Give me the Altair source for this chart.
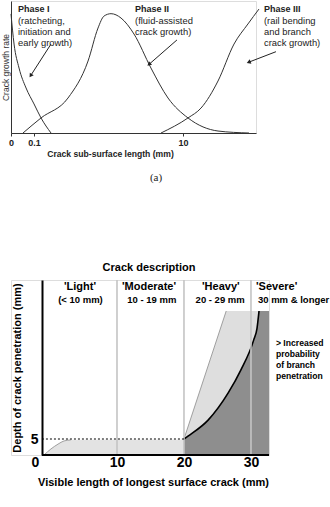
import altair as alt
import pandas as pd

FONT = "Liberation Sans"

# ---------------- Figure (a): phases of crack growth ----------------
# x: crack sub-surface length on a log10 scale (mm); y: relative growth rate
p1_x = [-1.309, -1.268, -1.201, -1.107, -1.0, -0.906, -0.772]
p1_y = [90.2, 67.4, 49.2, 34.1, 22.0, 11.4, 0.0]
p2_x = [-1.148, -0.906, -0.544, -0.275, -0.141, -0.060, 0.034, 0.168,
        0.342, 0.570, 0.799, 1.067, 1.470, 1.886]
p2_y = [0.0, 11.4, 26.5, 54.5, 79.5, 88.6, 90.4, 87.1, 75.0, 49.2, 26.5,
        11.4, 1.5, 0.0]
p3_x = [0.705, 1.067, 1.242, 1.470, 1.685, 1.872, 2.020]
p3_y = [0.0, 11.4, 18.9, 39.4, 67.4, 82.6, 93.9]

a_tick_vals = [-1.309, -1.0, 1.0]
a_tick_labels = ["0", "0.1", "10"]

phase_titles = ["Phase I", "Phase II", "Phase III"]
phase_notes = ["(ratcheting,\ninitiation and\nearly growth)",
               "(fluid-assisted\ncrack growth)",
               "(rail bending\nand branch\ncrack growth)"]
phase_text_x = [-1.215, 0.356, 2.087]
phase_title_y = [93.9, 93.9, 93.9]
phase_note_y = [87.6, 87.6, 87.6]

arrow_x = [-0.772, 0.919, 2.248]
arrow_y = [67.4, 70.5, 61.6]
arrow_x2 = [-1.040, 0.550, 1.890]
arrow_y2 = [43.9, 52.3, 53.8]
arrow_angle = [212.8, 228.9, 248.9]

# ---------------- Figure (b): crack description ----------------
light_x = [-0.9, 0.15, 1.2, 2.1, 3.1, 20.0]
light_y = [0.0, 1.9, 3.4, 4.4, 4.7, 4.8]
wedge_x = [20.0, 26.3, 31.2]
wedge_y = [5.0, 45.0, 45.0]
dark_x = [20.0, 20.6, 23.6, 26.6, 28.5, 30.4, 30.9, 31.2, 32.69]
dark_y = [5.0, 5.9, 10.9, 19.4, 26.6, 35.9, 39.6, 45.0, 45.0]
bound_x = [10, 20, 30]

hdr_names = ["'Light'", "'Moderate'", "'Heavy'"]
hdr_ranges = ["(< 10 mm)", "10 - 19 mm", "20 - 29 mm"]
hdr_name_x = [4.48, 14.78, 25.5]
hdr_range_x = [4.55, 15.2, 25.4]
sev_name, sev_range = "'Severe'", "30 mm & longer"
sev_name_x, sev_range_x = 30.75, 31.04
hdr_name_y, hdr_range_y = 52.5, 48.4

b_tick_vals = [-2.24, 10, 20, 30]

# ======================= chart (a) =======================
A_XDOM = [-1.309, 1.980]
A_YDOM = [0, 100]
ax_x_axis = alt.Axis(values=a_tick_vals,
                     labelExpr="datum.value < -1.1 ? '0' : (datum.value < 0 ? '0.1' : '10')",
                     labelFlush=False, labelFont=FONT, labelFontSize=9,
                     labelFontWeight="bold", labelColor="#222", labelPadding=2,
                     tickSize=3, tickColor="#333", domainColor="#333", grid=False,
                     title="Crack sub-surface length (mm)", titleFont=FONT,
                     titleFontSize=8.6, titleFontWeight="bold", titleColor="#222",
                     titleX=99, titleY=20, titleBaseline="middle", titleAlign="center")
ax_y_axis = alt.Axis(labels=False, ticks=False, grid=False, domainColor="#333",
                     title="Crack growth rate", titleFont=FONT, titleFontSize=8.5,
                     titleFontWeight="normal", titleColor="#333", titlePadding=1)

AX = alt.X("x:Q", scale=alt.Scale(domain=A_XDOM, nice=False, zero=False), axis=ax_x_axis)
AY = alt.Y("y:Q", scale=alt.Scale(domain=A_YDOM, nice=False, zero=False), axis=ax_y_axis)

curves = pd.DataFrame(
    [{"x": x, "y": y, "phase": "I", "i": i} for i, (x, y) in enumerate(zip(p1_x, p1_y))]
    + [{"x": x, "y": y, "phase": "II", "i": i} for i, (x, y) in enumerate(zip(p2_x, p2_y))]
    + [{"x": x, "y": y, "phase": "III", "i": i} for i, (x, y) in enumerate(zip(p3_x, p3_y))]
)
curve_layer = alt.Chart(curves).mark_line(
    color="#333", strokeWidth=1, clip=False, interpolate="monotone"
).encode(x=AX, y=AY, detail="phase:N", order="i:Q")

titles_df = pd.DataFrame({"x": phase_text_x, "y": phase_title_y, "t": phase_titles})
titles_layer = alt.Chart(titles_df).mark_text(
    align="left", baseline="middle", font=FONT, fontSize=9, fontWeight="bold", color="#222"
).encode(x=AX, y=AY, text="t:N")

notes_df = pd.DataFrame({"x": phase_text_x, "y": phase_note_y, "t": phase_notes})
notes_layer = alt.Chart(notes_df).mark_text(
    align="left", baseline="top", font=FONT, fontSize=9.4, color="#222",
    lineBreak="\n", lineHeight=10.7
).encode(x=AX, y=AY, text="t:N")

arrows_df = pd.DataFrame({"x": arrow_x, "y": arrow_y, "x2": arrow_x2, "y2": arrow_y2})
arrow_lines = alt.Chart(arrows_df).mark_rule(color="#222", strokeWidth=1).encode(
    x=AX, y=AY, x2="x2:Q", y2="y2:Q")
heads_df = pd.DataFrame({"x": arrow_x2, "y": arrow_y2, "a": arrow_angle})
arrow_heads = alt.Chart(heads_df).mark_point(
    shape="triangle", filled=True, size=22, color="#222", opacity=1
).encode(x=AX, y=AY, angle=alt.Angle("a:Q", scale=None))

a_label_df = pd.DataFrame({"x": [0.638], "y": [-34.1], "t": ["(a)"]})
a_label = alt.Chart(a_label_df).mark_text(
    font="Liberation Serif", fontSize=11, color="#222", baseline="middle"
).encode(x=AX, y=AY, text="t:N")

chart_a = alt.layer(curve_layer, arrow_lines, arrow_heads, titles_layer, notes_layer,
                    a_label).properties(width=245, height=132)

# ======================= chart (b) =======================
B_XDOM = [-5.82, 32.69]
B_YDOM = [0, 54.69]
bx_axis = alt.Axis(values=b_tick_vals,
                   labelExpr="datum.value < 0 ? '0' : datum.label",
                   labelFlush=False, labelFont=FONT, labelFontSize=14,
                   labelFontWeight="bold", labelColor="black", labelPadding=0,
                   ticks=False, domain=False, grid=False,
                   title="Visible length of longest surface crack (mm)", titleFont=FONT,
                   titleFontSize=11, titleFontWeight="bold", titleColor="black",
                   titleX=142, titleY=27, titleBaseline="middle", titleAlign="center")
by_axis = alt.Axis(values=[5], offset=-31, labelFont=FONT, labelFontSize=14,
                   labelFontWeight="bold", labelColor="black", labelPadding=4,
                   ticks=False, grid=False, domainColor="black", domainWidth=2,
                   title="Depth of crack penetration (mm)", titleFont=FONT,
                   titleFontSize=11, titleFontWeight="bold", titleColor="black",
                   titlePadding=8)
BX = alt.X("x:Q", scale=alt.Scale(domain=B_XDOM, nice=False, zero=False), axis=bx_axis)
BY = alt.Y("y:Q", scale=alt.Scale(domain=B_YDOM, nice=False, zero=False), axis=by_axis,
           stack=None)

light_df = pd.DataFrame({"x": light_x, "y": light_y})
wedge_df = pd.DataFrame({"x": wedge_x, "y": wedge_y})
dark_df = pd.DataFrame({"x": dark_x, "y": dark_y})

light_area = alt.Chart(light_df).mark_area(
    color="#e3e3e3", opacity=1, interpolate="monotone").encode(x=BX, y=BY)
light_edge = alt.Chart(light_df.iloc[:5]).mark_line(
    color="#8a8a8a", strokeWidth=0.8, interpolate="monotone").encode(x=BX, y=BY)
wedge_area = alt.Chart(wedge_df).mark_area(color="#dedede", opacity=1).encode(x=BX, y=BY)
wedge_edge = alt.Chart(wedge_df.iloc[:2]).mark_line(color="#8a8a8a", strokeWidth=0.8).encode(x=BX, y=BY)
dark_area = alt.Chart(dark_df).mark_area(
    color="#8e8e8e", opacity=1, interpolate="monotone").encode(x=BX, y=BY)
dark_edge = alt.Chart(dark_df.iloc[:8]).mark_line(
    color="black", strokeWidth=1.6, interpolate="monotone").encode(x=BX, y=BY)

bounds_df = pd.DataFrame({"x": bound_x})
bounds_layer = alt.Chart(bounds_df).mark_rule(color="#c4c4c4", strokeWidth=1.6).encode(
    x=BX, y=alt.datum(0), y2=alt.datum(B_YDOM[1]))

dash_df = pd.DataFrame({"x": [-1.2], "x2": [20.0], "y": [5.0]})
dash_layer = alt.Chart(dash_df).mark_rule(color="black", strokeWidth=1, strokeDash=[2, 2]).encode(
    x=BX, x2="x2:Q", y=BY)

base_df = pd.DataFrame({"x": [-1.2], "x2": [B_XDOM[1]], "y": [0.0]})
base_layer = alt.Chart(base_df).mark_rule(color="black", strokeWidth=2).encode(
    x=BX, x2="x2:Q", y=BY)

names_df = pd.DataFrame({"x": hdr_name_x, "y": [hdr_name_y] * 3, "t": hdr_names})
names_layer = alt.Chart(names_df).mark_text(
    font=FONT, fontSize=11, fontWeight="bold", color="black", baseline="middle"
).encode(x=BX, y=BY, text="t:N")
ranges_df = pd.DataFrame({"x": hdr_range_x, "y": [hdr_range_y] * 3, "t": hdr_ranges})
ranges_layer = alt.Chart(ranges_df).mark_text(
    font=FONT, fontSize=9.5, fontWeight="bold", color="black", baseline="middle"
).encode(x=BX, y=BY, text="t:N")
sev_df = pd.DataFrame({"x": [sev_name_x, sev_range_x], "y": [hdr_name_y, hdr_range_y],
                       "t": [sev_name, sev_range], "s": [11, 9.5]})
sev_layer = alt.Chart(sev_df).mark_text(
    font=FONT, fontWeight="bold", color="black", baseline="middle", align="left"
).encode(x=BX, y=BY, text="t:N", size=alt.Size("s:Q", scale=None, legend=None))

desc_df = pd.DataFrame({"x": [14.78], "y": [58.44], "t": ["Crack description"]})
desc_layer = alt.Chart(desc_df).mark_text(
    font=FONT, fontSize=11, fontWeight="bold", color="black", baseline="middle"
).encode(x=BX, y=BY, text="t:N")

branch_df = pd.DataFrame({"x": [33.73], "y": [36.1],
                          "t": ["> Increased\nprobability\nof branch\npenetration"]})
branch_layer = alt.Chart(branch_df).mark_text(
    font=FONT, fontSize=8.6, fontWeight="bold", color="black", align="left",
    baseline="top", lineBreak="\n", lineHeight=10.7
).encode(x=BX, y=BY, text="t:N")

chart_b = alt.layer(light_area, wedge_area, dark_area, light_edge, wedge_edge, dark_edge,
                    bounds_layer, dash_layer, base_layer, names_layer, ranges_layer,
                    sev_layer, desc_layer, branch_layer).properties(width=258, height=175)

chart = alt.vconcat(chart_a, chart_b, spacing=77).properties(
    padding={"left": 0, "top": 0, "right": 0, "bottom": 0}
).configure_view(stroke=None).configure(background="white")

chart.save("out.html", embed_options={"renderer": "svg", "actions": False})
